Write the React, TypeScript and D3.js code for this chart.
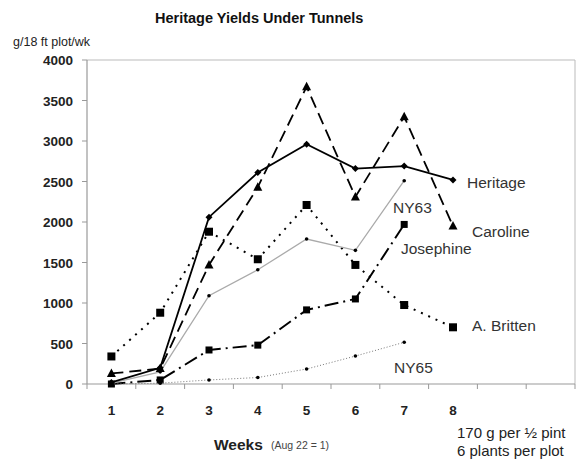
import React from "react";
import * as d3 from "d3";

const weeks = ["1", "2", "3", "4", "5", "6", "7", "8", "", " "];
const heritage = [20, 200, 2060, 2610, 2960, 2660, 2690, 2520];
const caroline = [130, 190, 1470, 2430, 3670, 2310, 3300, 1950];
const britten = [340, 880, 1880, 1540, 2210, 1470, 975, 700];
const josephine = [0, 50, 420, 480, 915, 1050, 1970];
const ny63 = [10, 150, 1090, 1410, 1790, 1650, 2510];
const ny65 = [0, 10, 50, 80, 185, 345, 515];
const yTicks = [0, 500, 1000, 1500, 2000, 2500, 3000, 3500, 4000];

const W = 580, H = 462;
const L = 87, R = 575, T = 60, B = 384;

export default function App() {
  const x = d3.scaleBand<string>().domain(weeks).range([L, R]);
  const y = d3.scaleLinear().domain([0, 4000]).range([B, T]);
  const cx = (i: number) => (x(weeks[i]) as number) + x.bandwidth() / 2;
  const line = d3.line<number>().x((_, i) => cx(i)).y((d) => y(d));
  const font = "Liberation Sans, Arial, sans-serif";

  const series = [
    { data: britten, stroke: "#000", width: 2, dash: "2,6", marker: "bigsq" },
    { data: josephine, stroke: "#000", width: 2, dash: "14,5,2,5", marker: "sq" },
    { data: ny65, stroke: "#777", width: 1, dash: "1,2", marker: "dot" },
    { data: ny63, stroke: "#aaa", width: 1.3, dash: "", marker: "dot" },
    { data: caroline, stroke: "#000", width: 1.8, dash: "12,6", marker: "tri" },
    { data: heritage, stroke: "#000", width: 1.8, dash: "", marker: "dia" },
  ];

  const marker = (m: string, px: number, py: number, k: string) => {
    if (m === "bigsq") return <rect key={k} x={px - 4} y={py - 4} width={8} height={8} fill="#000" />;
    if (m === "sq") return <rect key={k} x={px - 3.5} y={py - 3.5} width={7} height={7} fill="#000" />;
    if (m === "tri") return <path key={k} d={`M${px},${py - 5}L${px + 4.5},${py + 3.5}L${px - 4.5},${py + 3.5}Z`} fill="#000" />;
    if (m === "dia") return <path key={k} d={`M${px},${py - 3.5}L${px + 3.5},${py}L${px},${py + 3.5}L${px - 3.5},${py}Z`} fill="#000" />;
    return <circle key={k} cx={px} cy={py} r={1.8} fill="#000" />;
  };

  const labels = [
    { t: "Heritage", x: 467, y: 188 },
    { t: "NY63", x: 393, y: 213 },
    { t: "Caroline", x: 472, y: 237 },
    { t: "Josephine", x: 401, y: 254 },
    { t: "A. Britten", x: 472, y: 331 },
    { t: "NY65", x: 394, y: 373 },
  ];

  return (
    <svg width={W} height={H} style={{ position: "absolute", left: 0, top: 0 }} fontFamily={font}>
      <rect x={0} y={0} width={W} height={H} fill="#fff" />
      <text x={155} y={23} fontSize={14.5} fontWeight="bold" fill="#111">Heritage Yields Under Tunnels</text>
      <text x={13} y={46} fontSize={12.5} fill="#222">g/18 ft plot/wk</text>
      {/* frame */}
      <line x1={L} y1={T} x2={R} y2={T} stroke="#bbb" strokeWidth={1} />
      <line x1={R} y1={T} x2={R} y2={B} stroke="#bbb" strokeWidth={1} />
      <line x1={L} y1={T} x2={L} y2={B} stroke="#999" strokeWidth={1.2} />
      <line x1={L} y1={B} x2={R} y2={B} stroke="#999" strokeWidth={1.2} />
      {yTicks.map((v) => (
        <g key={v}>
          <line x1={L - 5} x2={L} y1={y(v)} y2={y(v)} stroke="#999" />
          <text x={L - 14} y={y(v) + 5} textAnchor="end" fontSize={13.5} fontWeight="bold" fill="#222">{v}</text>
        </g>
      ))}
      {weeks.map((w, i) => (
        <line key={i} x1={x(w) as number} x2={x(w) as number} y1={B} y2={B + 5} stroke="#999" />
      ))}
      <line x1={R} x2={R} y1={B} y2={B + 5} stroke="#999" />
      {weeks.slice(0, 8).map((w, i) => (
        <text key={w} x={cx(i)} y={415} textAnchor="middle" fontSize={13.5} fontWeight="bold" fill="#222">{w}</text>
      ))}
      {series.map((s, si) => (
        <g key={si}>
          <path d={line(s.data) || ""} fill="none" stroke={s.stroke} strokeWidth={s.width} strokeDasharray={s.dash} />
          {s.data.map((v, i) => marker(s.marker, cx(i), y(v), `${si}-${i}`))}
        </g>
      ))}
      {labels.map((l) => (
        <text key={l.t} x={l.x} y={l.y} fontSize={15.5} fill="#333">{l.t}</text>
      ))}
      <text x={214} y={450} fontSize={15.5} fontWeight="bold" fill="#222">Weeks</text>
      <text x={271} y={449} fontSize={10.5} fill="#444">(Aug 22 = 1)</text>
      <text x={457} y={438} fontSize={15} fill="#222">170 g per ½ pint</text>
      <text x={457} y={456} fontSize={15} fill="#222">6 plants per plot</text>
    </svg>
  );
}
